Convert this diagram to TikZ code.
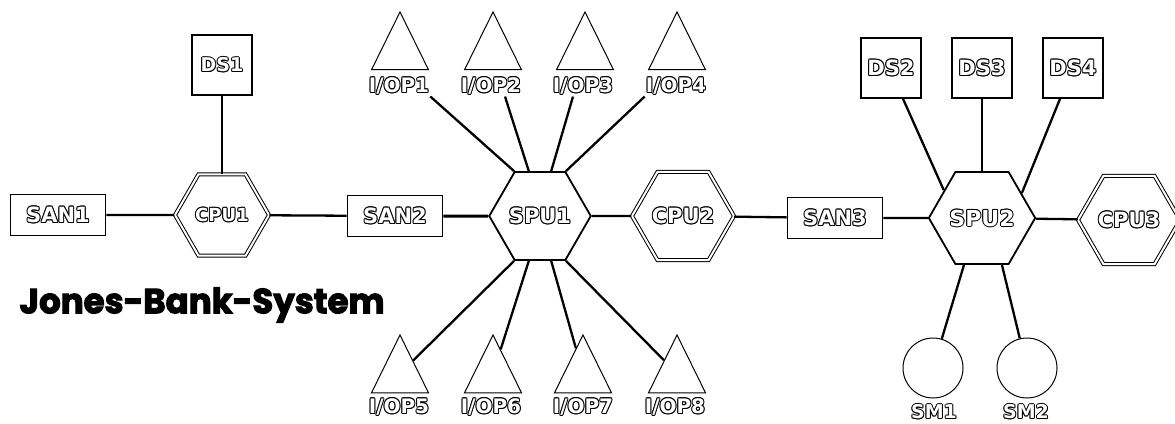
\documentclass[tikz,border=0pt]{standalone}
\usepackage{fontspec}
\usepackage{graphicx}
\usetikzlibrary{shapes.geometric}
\newfontfamily\lblfont{DejaVu Sans}
\newfontfamily\titlefont{Poppins}[BoldFeatures={FakeBold=3}]
% hollow (outlined) lettering: black copies around a white core
\newcommand{\olcopy}[3]{\rlap{\kern#1\raisebox{#2}{#3}}}
\newcommand{\olbl}[1]{{\lblfont\bfseries
  \olcopy{1pt}{0pt}{#1}\olcopy{-1pt}{0pt}{#1}%
  \olcopy{0pt}{1pt}{#1}\olcopy{0pt}{-1pt}{#1}%
  \olcopy{0.7pt}{0.7pt}{#1}\olcopy{-0.7pt}{0.7pt}{#1}%
  \olcopy{0.7pt}{-0.7pt}{#1}\olcopy{-0.7pt}{-0.7pt}{#1}%
  \textcolor{white}{#1}}}
\tikzset{
  conn/.style={line width=2.3pt},
  dsbox/.style={draw, line width=1.6pt, minimum width=60pt, minimum height=60pt, inner sep=0pt, font=\fontsize{21}{21}\selectfont},
  sanbox/.style={draw, line width=1.6pt, minimum width=95pt, minimum height=41pt, inner sep=0pt, font=\fontsize{21}{21}\selectfont},
  hexnode/.style={draw, line width=1.8pt, regular polygon, regular polygon sides=6, minimum size=94pt, inner sep=0pt, font=\fontsize{21}{21}\selectfont},
  dhex/.style={hexnode, double, double distance=2pt, line width=1pt},
  tri/.style={draw, line width=1pt, regular polygon, regular polygon sides=3, minimum size=65.8pt, inner sep=0pt, yscale=1.17, transform shape},
  smcircle/.style={draw, line width=1pt, circle, minimum size=60pt, inner sep=0pt},
  lbl/.style={inner sep=1pt, font=\fontsize{20}{20}\selectfont},
}
\begin{document}
\begin{tikzpicture}[x=1pt, y=-1pt]
\useasboundingbox (0,0) rectangle (1175,423);

% left cluster
\node[dsbox, font=\fontsize{19}{19}\selectfont] (ds1) at (222,65) {\olbl{DS1}};
\node[sanbox] (san1) at (58,215) {\olbl{SAN1}};
\node[dhex, font=\fontsize{18}{18}\selectfont] (cpu1) at (222,215) {\olbl{CPU1}};
\node[sanbox] (san2) at (395,216) {\olbl{SAN2}};

% central switching unit
\node[hexnode] (spu1) at (540,216) {\olbl{SPU1}};
\node[dhex] (cpu2) at (683,216) {\olbl{CPU2}};

% I/O processors above
\node[tri] (t1) at (400,50.5) {};
\node[tri] (t2) at (493,50.5) {};
\node[tri] (t3) at (585,50.5) {};
\node[tri] (t4) at (677,50.5) {};
\node[lbl] (l1) at (399,86) {\olbl{I/OP1}};
\node[lbl] (l2) at (491,86) {\olbl{I/OP2}};
\node[lbl] (l3) at (583,86) {\olbl{I/OP3}};
\node[lbl] (l4) at (676,86) {\olbl{I/OP4}};

% I/O processors below
\node[tri] (t5) at (400,373.5) {};
\node[tri] (t6) at (493,373.5) {};
\node[tri] (t7) at (583,373.5) {};
\node[tri] (t8) at (677,373.5) {};
\node[lbl] (l5) at (399,407) {\olbl{I/OP5}};
\node[lbl] (l6) at (491,407) {\olbl{I/OP6}};
\node[lbl] (l7) at (583,407) {\olbl{I/OP7}};
\node[lbl] (l8) at (675,407) {\olbl{I/OP8}};

% right cluster
\node[sanbox] (san3) at (835,218) {\olbl{SAN3}};
\node[hexnode, font=\fontsize{22}{22}\selectfont] (spu2) at (982,218) {\olbl{SPU2}};
\node[dhex, minimum size=90pt] (cpu3) at (1129,220) {\olbl{CPU3}};
\node[dsbox] (ds2) at (891,68) {\olbl{DS2}};
\node[dsbox] (ds3) at (982,68) {\olbl{DS3}};
\node[dsbox] (ds4) at (1073,68) {\olbl{DS4}};
\node[smcircle] (sm1) at (933,368) {};
\node[smcircle] (sm2) at (1027,368) {};
\node[lbl, font=\fontsize{19}{19}\selectfont] (lsm1) at (934,412) {\olbl{SM1}};
\node[lbl, font=\fontsize{19}{19}\selectfont] (lsm2) at (1026,412) {\olbl{SM2}};

% title
\node[inner sep=0pt] (title) at (202,305) {\resizebox*{365pt}{35pt}{\titlefont\bfseries Jones-Bank-System}};

% links
\draw[conn] (ds1) -- (cpu1);
\draw[conn] (san1) -- (cpu1);
\draw[conn] (cpu1) -- (san2);
\draw[conn, line width=3pt] (san2) -- (spu1);
\draw[conn] (spu1) -- (cpu2);
\draw[conn] (cpu2) -- (san3);
\draw[conn] (san3) -- (spu2);
\draw[conn] (spu2) -- (cpu3);

\draw[conn] (l1.south east) -- (spu1.120);
\draw[conn] ([xshift=14pt]l2.south) -- (spu1.104);
\draw[conn] ([xshift=-10pt]l3.south) -- (spu1.76);
\draw[conn] (l4.south west) -- (spu1.60);
\draw[conn] (spu1.240) -- (t5);
\draw[conn] (spu1.256) -- (t6);
\draw[conn] (spu1.284) -- (t7);
\draw[conn] (spu1.300) -- (t8);

\draw[conn] ([xshift=12pt]ds2.south) -- (spu2.144);
\draw[conn] (ds3) -- (spu2);
\draw[conn] ([xshift=-13pt]ds4.south) -- (spu2.32);
\draw[conn] (spu2.249) -- (sm1);
\draw[conn] (spu2.293) -- (sm2);
\end{tikzpicture}
\end{document}
